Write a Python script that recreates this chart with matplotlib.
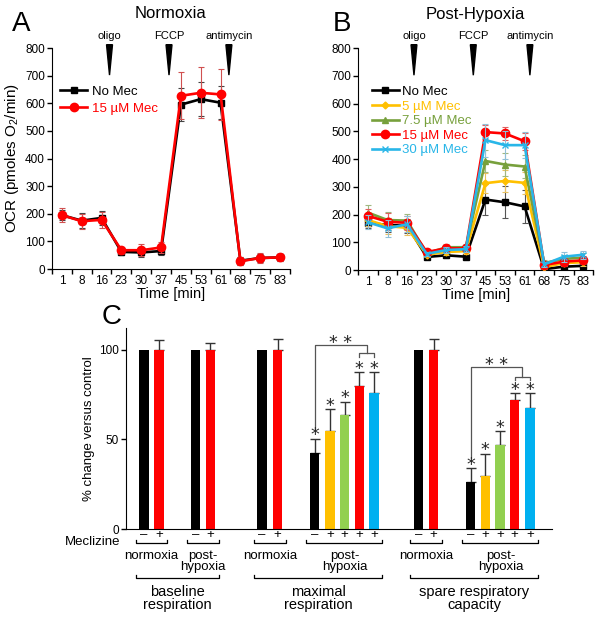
import numpy as np
import matplotlib.pyplot as plt

plt.rcParams['font.family'] = ['Liberation Sans', 'DejaVu Sans']
plt.rcParams['mathtext.default'] = 'regular'

# time course data (OCR, pmoles O2/min)
times = ['1', '8', '16', '23', '30', '37', '45', '53', '61', '68', '75', '83']

a_nomec = [195, 175, 185, 62, 60, 65, 595, 615, 602, 30, 40, 42]
a_nomec_err = [18, 27, 25, 12, 18, 15, 60, 62, 60, 14, 16, 14]
a_mec15 = [195, 173, 178, 68, 68, 78, 627, 638, 632, 28, 40, 42]
a_mec15_err = [25, 27, 30, 12, 22, 20, 85, 92, 93, 15, 18, 14]

b_nomec = [170, 162, 160, 47, 53, 48, 254, 244, 229, 3, 12, 15]
b_nomec_err = [20, 25, 25, 8, 8, 8, 55, 58, 58, 5, 8, 8]
b_mec5 = [180, 158, 152, 55, 65, 68, 313, 321, 314, 10, 25, 28]
b_mec5_err = [22, 28, 25, 8, 10, 10, 35, 40, 40, 8, 12, 12]
b_mec75 = [207, 180, 178, 60, 82, 82, 393, 380, 373, 25, 40, 45]
b_mec75_err = [28, 28, 25, 8, 10, 10, 40, 40, 40, 10, 15, 15]
b_mec15 = [195, 174, 170, 65, 78, 78, 497, 492, 464, 18, 30, 35]
b_mec15_err = [25, 31, 25, 8, 10, 10, 25, 25, 30, 10, 15, 15]
b_mec30 = [172, 150, 165, 58, 72, 75, 468, 450, 450, 20, 48, 55]
b_mec30_err = [25, 30, 28, 8, 10, 10, 59, 50, 47, 10, 18, 15]

# bar chart data (% change versus control)
c_vals = [100, 100, 100, 100, 100, 100, 42.5, 54.9, 63.3, 80, 75.8,
          100, 100, 26, 29.8, 46.8, 71.7, 67.6]
c_errs = [0, 5.2, 0, 3.7, 0, 6, 7.9, 12.1, 7.7, 7.5, 11.7,
          0, 6, 7.9, 12.2, 7.8, 3.9, 8]
c_signs = ['–', '+', '–', '+', '–', '+', '–', '+', '+', '+', '+',
           '–', '+', '–', '+', '+', '+', '+']
c_star = [0, 0, 0, 0, 0, 0, 1, 1, 1, 1, 1, 0, 0, 1, 1, 1, 1, 1]
c_conditions = ['normoxia', 'post-\nhypoxia', 'normoxia', 'post-\nhypoxia',
                'normoxia', 'post-\nhypoxia']
c_measures = ['baseline\nrespiration', 'maximal\nrespiration',
              'spare respiratory\ncapacity']

# layout / styles
c_x = [1.2, 2.2, 4.63, 5.63, 9.07, 10.1, 12.58, 13.6, 14.58, 15.55, 16.53,
       19.5, 20.5, 22.98, 23.95, 24.93, 25.9, 26.93]
bar_cols = ['black', '#ff0000'] * 3 + ['black', '#ffc000', '#92d050', '#ff0000', '#00b0f0'] \
    + ['black', '#ff0000'] + ['black', '#ffc000', '#92d050', '#ff0000', '#00b0f0']
groups = [(0, 1), (2, 3), (4, 5), (6, 10), (11, 12), (13, 17)]

fig = plt.figure(figsize=(6.04, 6.18), dpi=100)
axA = fig.add_axes([0.0861, 0.5647, 0.394, 0.3576])
axB = fig.add_axes([0.593, 0.5631, 0.389, 0.3592])
axC = fig.add_axes([0.2086, 0.144, 0.7054, 0.325])
axC.patch.set_alpha(0)

pos = np.arange(len(times))


def time_axis(ax, inj):
    ax.set_xlim(-0.5, 11.5)
    ax.set_ylim(0, 800)
    for s in ['top', 'right']:
        ax.spines[s].set_visible(False)
    ax.set_xticks(np.arange(-0.5, 12, 1))
    ax.set_xticklabels([])
    ax.set_xticks(pos, minor=True)
    ax.set_xticklabels(times, minor=True)
    ax.tick_params(axis='x', which='major', length=3.5, width=1)
    ax.tick_params(axis='x', which='minor', length=0, pad=4, labelsize=8.5)
    ax.set_yticks(range(0, 801, 100))
    ax.tick_params(axis='y', length=3.5, width=1, pad=1.5, labelsize=8.5)
    ax.set_xlabel('Time [min]', fontsize=10.5, labelpad=0)
    for x, lab in zip(inj, ['oligo', 'FCCP', 'antimycin']):
        ax.fill([x - 0.15, x + 0.15, x], [812, 812, 702], color='black', clip_on=False)
        ax.text(x, 845, lab, ha='center', va='center', fontsize=8)


def series(ax, y, err, col, ecol, marker, ms, label, z):
    ax.errorbar(pos, y, yerr=err, fmt='none', ecolor=ecol, elinewidth=0.8,
                capsize=2, capthick=0.8, zorder=z)
    ax.plot(pos, y, color=col, lw=1.9, marker=marker, ms=ms, label=label, zorder=z + 0.5)


# panel A
series(axA, a_nomec, a_nomec_err, 'black', '#444444', 's', 5, 'No Mec', 3)
series(axA, a_mec15, a_mec15_err, '#ff0000', '#d05050', 'o', 6, '15 µM Mec', 4)
time_axis(axA, [2.4, 5.4, 8.42])
axA.set_ylabel('OCR (pmoles O$_2$/min)', fontsize=11, labelpad=3)
leg = axA.legend(loc='upper left', bbox_to_anchor=(0.035, 0.83), frameon=False,
                 fontsize=9.5, handlelength=2.0, handletextpad=0.4,
                 borderpad=0, borderaxespad=0, labelspacing=0.35)
for t, c in zip(leg.get_texts(), ['black', '#ff0000']):
    t.set_color(c)

# panel B
series(axB, b_nomec, b_nomec_err, 'black', '#555555', 's', 5, 'No Mec', 3)
series(axB, b_mec5, b_mec5_err, '#ffc000', '#e8c060', 'D', 3.5, '5 µM Mec', 4)
series(axB, b_mec75, b_mec75_err, '#77a03c', '#a0b880', '^', 5, '7.5 µM Mec', 5)
series(axB, b_mec15, b_mec15_err, '#ff0000', '#e06060', 'o', 6, '15 µM Mec', 6)
series(axB, b_mec30, b_mec30_err, '#29b6e8', '#90c0d8', 'x', 5, '30 µM Mec', 7)
time_axis(axB, [2.35, 5.38, 8.27])
leg = axB.legend(loc='upper left', bbox_to_anchor=(0.06, 0.83), frameon=False,
                 fontsize=9.5, handlelength=2.0, handletextpad=0.25,
                 borderpad=0, borderaxespad=0, labelspacing=0.18)
for t, c in zip(leg.get_texts(), ['black', '#ffc000', '#77a03c', '#ff0000', '#29b6e8']):
    t.set_color(c)

# panel C
axC.bar(c_x, c_vals, width=0.63, color=bar_cols, zorder=2)
hasErr = [i for i in range(len(c_vals)) if c_errs[i] > 0]
axC.errorbar([c_x[i] for i in hasErr], [c_vals[i] for i in hasErr],
             yerr=[[0] * len(hasErr), [c_errs[i] for i in hasErr]],
             fmt='none', ecolor='#333333', elinewidth=1, capsize=3.5, capthick=1, zorder=1)
axC.set_xlim(0, 28.4)
axC.set_ylim(0, 112)
for s in ['top', 'right']:
    axC.spines[s].set_visible(False)
axC.set_xticks([])
axC.set_yticks([0, 50, 100])
axC.tick_params(axis='y', length=3.5, width=1, pad=1.5, labelsize=8.5)
axC.set_ylabel('% change versus control', fontsize=9.5, labelpad=3)

for i in range(len(c_vals)):
    axC.text(c_x[i], -3.4, c_signs[i], ha='center', va='center', fontsize=9.5, clip_on=False)
    if c_star[i]:
        axC.text(c_x[i], c_vals[i] + c_errs[i] - 1.0, '*', ha='center', va='baseline',
                 fontsize=12.5, family='DejaVu Sans', color='#222222')
axC.text(-0.35, -7.0, 'Meclizine', ha='right', va='center', fontsize=9.5, clip_on=False)


def under_bracket(x0, x1, y, h):
    axC.plot([x0, x0, x1, x1], [y + h, y, y, y + h], color='black', lw=0.9, clip_on=False)


for k, (a, b) in enumerate(groups):
    under_bracket(c_x[a] - 0.55, c_x[b] + 0.55, -8, 1.6)
    axC.text((c_x[a] + c_x[b]) / 2, -14.9 if k % 2 == 0 else -18.1, c_conditions[k],
             ha='center', va='center', fontsize=9.5, linespacing=0.95, clip_on=False)
for k in range(3):
    a, b = groups[2 * k][0], groups[2 * k + 1][1]
    under_bracket(c_x[a] - 0.55, c_x[b] + 0.55, -27.5, 1.6)
    axC.text((c_x[a] + c_x[b]) / 2, -38.5, c_measures[k], ha='center', va='center',
             fontsize=10.5, linespacing=0.9, clip_on=False)


def sig_bracket(i0, i1, i2, ytop, yr, ylow):
    xm = (c_x[i1] + c_x[i2]) / 2
    axC.plot([c_x[i0], c_x[i0], xm, xm], [ylow, ytop, ytop, yr], color='#555555', lw=0.9)
    axC.plot([c_x[i1], c_x[i1], c_x[i2], c_x[i2]], [yr - 2, yr, yr, yr - 2],
             color='#555555', lw=0.9)
    axC.text((c_x[i0] + xm) / 2, ytop - 1.8, '* *', ha='center', va='baseline',
             fontsize=12.5, family='DejaVu Sans', color='#222222')


sig_bracket(6, 9, 10, 102.8, 98, 56)
sig_bracket(13, 16, 17, 90.5, 85, 39.6)

# panel letters and titles
fig.text(21 / 604, 1 - 24 / 618, 'A', fontsize=20, ha='center', va='center')
fig.text(342 / 604, 1 - 24 / 618, 'B', fontsize=20, ha='center', va='center')
fig.text(112 / 604, 1 - 317 / 618, 'C', fontsize=20, ha='center', va='center')
fig.text(171 / 604, 1 - 14 / 618, 'Normoxia', fontsize=12, ha='center', va='center')
fig.text(475 / 604, 1 - 14 / 618, 'Post-Hypoxia', fontsize=12, ha='center', va='center')

fig.savefig('out.png', dpi=100)
